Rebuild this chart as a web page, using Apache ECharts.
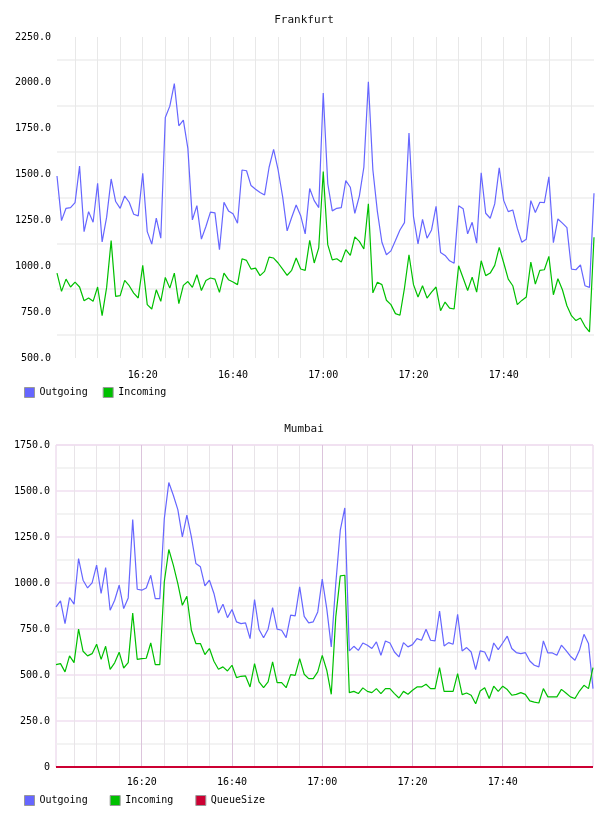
<!DOCTYPE html>
<html>
<head>
<meta charset="utf-8">
<script src="https://cdn.jsdelivr.net/npm/echarts@6.0.0/dist/echarts.min.js"></script>
<style>
  html, body { margin: 0; padding: 0; background: #fff; }
  #chart { width: 608px; height: 816px; }
</style>
</head>
<body>
<div id="chart"></div>
<script>
// one point per minute, 16:01 .. 18:00
const times = [
  '16:01','16:02','16:03','16:04','16:05','16:06','16:07','16:08','16:09','16:10',
  '16:11','16:12','16:13','16:14','16:15','16:16','16:17','16:18','16:19','16:20',
  '16:21','16:22','16:23','16:24','16:25','16:26','16:27','16:28','16:29','16:30',
  '16:31','16:32','16:33','16:34','16:35','16:36','16:37','16:38','16:39','16:40',
  '16:41','16:42','16:43','16:44','16:45','16:46','16:47','16:48','16:49','16:50',
  '16:51','16:52','16:53','16:54','16:55','16:56','16:57','16:58','16:59','17:00',
  '17:01','17:02','17:03','17:04','17:05','17:06','17:07','17:08','17:09','17:10',
  '17:11','17:12','17:13','17:14','17:15','17:16','17:17','17:18','17:19','17:20',
  '17:21','17:22','17:23','17:24','17:25','17:26','17:27','17:28','17:29','17:30',
  '17:31','17:32','17:33','17:34','17:35','17:36','17:37','17:38','17:39','17:40',
  '17:41','17:42','17:43','17:44','17:45','17:46','17:47','17:48','17:49','17:50',
  '17:51','17:52','17:53','17:54','17:55','17:56','17:57','17:58','17:59','18:00'
]

// Frankfurt
const fraOutgoing = [
  1492,1249,1316,1320,1347,1546,1189,1298,1240,1452,1133,1268,1476,1353,1316,1383,1349,1284,1275,1507,
  1189,1121,1262,1153,1811,1873,1996,1766,1797,1643,1253,1331,1148,1217,1295,1291,1090,1349,1302,1286,
  1235,1525,1521,1440,1420,1402,1389,1540,1637,1525,1380,1193,1266,1334,1276,1177,1424,1358,1320,1945,
  1450,1302,1316,1320,1467,1431,1289,1383,1540,2006,1525,1298,1131,1063,1084,1140,1198,1238,1727,1271,
  1122,1256,1153,1198,1327,1075,1059,1030,1017,1330,1314,1177,1240,1126,1510,1289,1262,1340,1537,1358,
  1298,1307,1208,1131,1148,1358,1293,1349,1347,1488,1129,1258,1235,1211,985,981,1008,894,885,1398
]
const fraIncoming = [
  963,863,930,887,914,887,812,827,809,887,731,885,1140,836,840,923,894,854,827,1005,
  791,767,872,809,939,881,963,796,896,917,885,954,868,923,936,930,858,963,927,914,
  900,1041,1032,985,990,949,972,1050,1045,1018,985,951,978,1045,985,978,1141,1018,1100,1517,
  1118,1035,1041,1023,1091,1060,1160,1136,1094,1341,855,913,900,815,791,742,733,881,1063,900,
  833,894,827,859,887,758,805,772,767,1003,936,868,941,859,1030,949,963,1005,1103,1018,
  930,894,791,814,833,1023,903,978,981,1054,845,932,872,785,731,704,718,673,642,1158
]

// Mumbai
const mumOutgoing = [
  870,903,779,921,885,1133,1015,973,1001,1097,943,1084,852,906,988,861,919,1345,966,961,
  973,1042,915,915,1350,1546,1477,1399,1251,1369,1251,1106,1088,984,1015,943,837,885,812,856,
  789,779,783,698,910,747,702,749,866,749,743,703,825,821,979,819,783,789,843,1021,
  861,653,997,1287,1408,631,656,634,674,662,644,680,607,685,674,625,598,676,653,665,
  698,689,749,689,685,847,658,676,667,830,631,649,625,529,631,625,575,674,638,674,
  711,644,622,616,622,576,553,544,685,620,620,607,662,634,602,580,634,721,671,426
]
const mumIncoming = [
  556,562,517,604,567,749,629,604,616,667,585,656,531,566,624,538,567,837,585,589,
  591,674,556,556,1006,1182,1097,997,879,928,743,671,671,611,644,575,531,544,522,553,
  486,493,495,435,562,462,431,462,571,459,459,431,502,498,589,504,480,480,517,607,
  526,395,816,1039,1042,404,411,399,430,411,404,426,399,426,426,399,375,411,395,417,
  435,435,450,426,426,540,411,411,411,508,393,402,390,344,413,431,372,439,411,439,
  421,390,395,404,395,359,353,348,426,381,381,381,422,402,381,372,413,444,426,540
]
const mumQueueSize = [
  0,0,0,0,0,0,0,0,0,0,0,0,0,0,0,0,0,0,0,0,
  0,0,0,0,0,0,0,0,0,0,0,0,0,0,0,0,0,0,0,0,
  0,0,0,0,0,0,0,0,0,0,0,0,0,0,0,0,0,0,0,0,
  0,0,0,0,0,0,0,0,0,0,0,0,0,0,0,0,0,0,0,0,
  0,0,0,0,0,0,0,0,0,0,0,0,0,0,0,0,0,0,0,0,
  0,0,0,0,0,0,0,0,0,0,0,0,0,0,0,0,0,0,0,0
]

const FONT = 'DejaVu Sans Mono'
const txt = { fontFamily: FONT, fontSize: 10, color: '#000' }

function minuteOf(t) {
  return +t.split(':')[1]
}
// labels every 20 min, last one (18:00) dropped like the original
function labelEvery20(i, v) {
  return minuteOf(v) % 20 === 0 && i < times.length - 1
}
function lineEvery5(i, v) {
  return minuteOf(v) % 5 === 0 && i < times.length - 1
}
function lineEvery20(i, v) {
  return minuteOf(v) % 20 === 0 && i < times.length - 1
}

let chart = echarts.init(document.getElementById('chart'))

let option = {
  animation: false,
  backgroundColor: '#fff',
  color: ['#6666ff', '#00c000', '#cc0033'],
  title: [
    { text: 'Frankfurt', left: 'center', top: 10, textStyle: { fontFamily: FONT, fontSize: 11, fontWeight: 'normal', color: '#111' } },
    { text: 'Mumbai', left: 'center', top: 419, textStyle: { fontFamily: FONT, fontSize: 11, fontWeight: 'normal', color: '#111' } }
  ],
  legend: [
    {
      data: ['Outgoing', 'Incoming'],
      left: 19, top: 382,
      icon: 'rect', itemWidth: 10, itemHeight: 10, itemGap: 15,
      itemStyle: { borderColor: '#999', borderWidth: 1 },
      textStyle: txt,
      selectedMode: false
    },
    {
      data: ['Outgoing', 'Incoming', 'QueueSize'],
      left: 19, top: 790,
      icon: 'rect', itemWidth: 10, itemHeight: 10, itemGap: 22,
      itemStyle: { borderColor: '#999', borderWidth: 1 },
      textStyle: txt,
      selectedMode: false
    }
  ],
  grid: [
    { left: 57, right: 14, top: 37, height: 321 },
    { left: 56, right: 15, top: 445, height: 322, show: true, borderColor: '#e6cde6', borderWidth: 1, backgroundColor: 'transparent' }
  ],
  xAxis: [
    {
      gridIndex: 0, type: 'category', data: times, boundaryGap: false,
      axisLine: { show: false }, axisTick: { show: false },
      axisLabel: { interval: labelEvery20, margin: 12, ...txt },
      splitLine: { show: true, interval: lineEvery5, lineStyle: { color: '#e8e8e8', width: 1 } }
    },
    {
      gridIndex: 1, type: 'category', data: times, boundaryGap: false,
      axisLine: { show: false }, axisTick: { show: false },
      axisLabel: { interval: labelEvery20, margin: 10, ...txt },
      splitLine: { show: true, interval: lineEvery5, lineStyle: { color: '#e8e4e8', width: 1 } }
    },
    {
      // pink 20 minute lines of the Mumbai grid
      gridIndex: 1, type: 'category', data: times, boundaryGap: false,
      axisLine: { show: false }, axisTick: { show: false }, axisLabel: { show: false },
      splitLine: { show: true, interval: lineEvery20, lineStyle: { color: '#dcc4dc', width: 1 } }
    }
  ],
  yAxis: [
    {
      gridIndex: 0, type: 'value', min: 500, max: 2250, interval: 250,
      axisLine: { show: false }, axisTick: { show: false },
      axisLabel: { margin: 6, formatter: v => v.toFixed(1), ...txt },
      splitLine: { show: false },
      minorTick: { show: false, splitNumber: 2 },
      minorSplitLine: { show: true, lineStyle: { color: '#eeeeee', width: 1.5 } }
    },
    {
      gridIndex: 1, type: 'value', min: 0, max: 1750, interval: 250,
      axisLine: { show: false }, axisTick: { show: false },
      axisLabel: { margin: 6, formatter: v => (v === 0 ? '0' : v.toFixed(1)), ...txt },
      splitLine: { show: true, lineStyle: { color: '#f0dff0', width: 1.5 } },
      minorTick: { show: false, splitNumber: 2 },
      minorSplitLine: { show: true, lineStyle: { color: '#efefef', width: 1.5 } }
    }
  ],
  series: [
    { name: 'Outgoing', type: 'line', xAxisIndex: 0, yAxisIndex: 0, data: fraOutgoing, showSymbol: false, lineStyle: { width: 1.2 }, color: '#6666ff' },
    { name: 'Incoming', type: 'line', xAxisIndex: 0, yAxisIndex: 0, data: fraIncoming, showSymbol: false, lineStyle: { width: 1.2 }, color: '#00c000' },
    { name: 'Outgoing', type: 'line', xAxisIndex: 1, yAxisIndex: 1, data: mumOutgoing, showSymbol: false, lineStyle: { width: 1.2 }, color: '#6666ff' },
    { name: 'Incoming', type: 'line', xAxisIndex: 1, yAxisIndex: 1, data: mumIncoming, showSymbol: false, lineStyle: { width: 1.2 }, color: '#00c000' },
    { name: 'QueueSize', type: 'line', xAxisIndex: 1, yAxisIndex: 1, data: mumQueueSize, showSymbol: false, lineStyle: { width: 2 }, color: '#cc0033' }
  ]
}

chart.setOption(option)
</script>
</body>
</html>
